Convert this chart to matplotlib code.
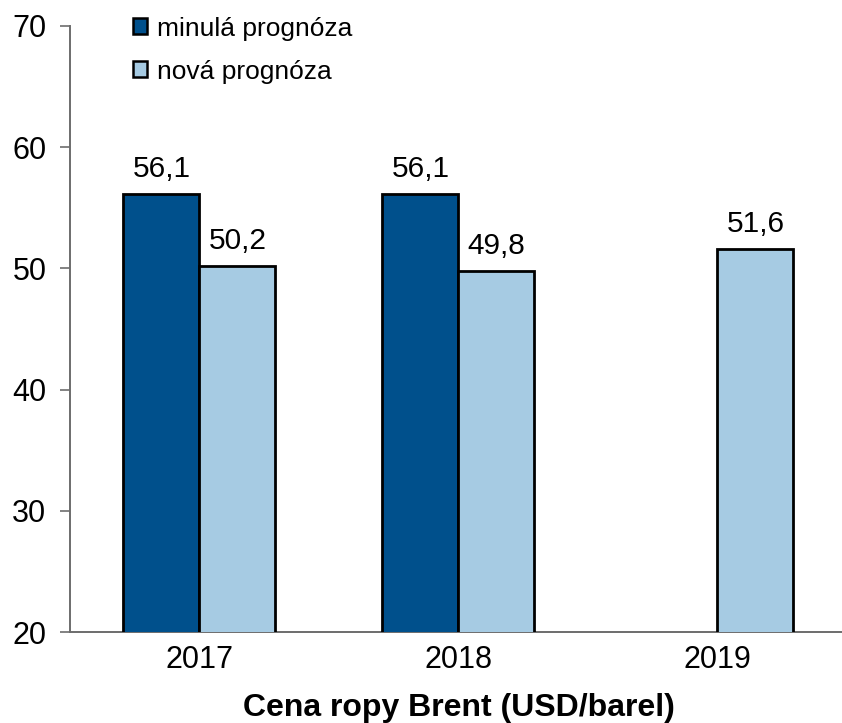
import matplotlib
matplotlib.use("Agg")
import matplotlib.pyplot as plt
import numpy as np
from matplotlib.patches import Patch

plt.rcParams['font.family'] = ['Liberation Sans', 'DejaVu Sans']

categories = ["2017", "2018", "2019"]
series_names = ["minulá prognóza", "nová prognóza"]
old_forecast = [56.1, 56.1, np.nan]
new_forecast = [50.2, 49.8, 51.6]
y_ticks = [20, 30, 40, 50, 60, 70]
xlabel = "Cena ropy Brent (USD/barel)"

dark = "#00508C"
light = "#A6CBE3"

W, H = 842, 723
fig = plt.figure(figsize=(W / 100, H / 100), dpi=100)
left_px, right_px, top_px, bottom_px = 70, 847, 26, 632
ax = fig.add_axes([left_px / W, 1 - bottom_px / H, (right_px - left_px) / W, (bottom_px - top_px) / H])

x = np.arange(len(categories))
bw = 76 / 259

def fmt(v):
    return f"{v:.1f}".replace(".", ",")

ax.bar(x - bw / 2, old_forecast, bw, color=dark, edgecolor="black", linewidth=2.0, zorder=3)
ax.bar(x + bw / 2, new_forecast, bw, color=light, edgecolor="black", linewidth=2.0, zorder=3)

for xs, vals in ((x - bw / 2, old_forecast), (x + bw / 2, new_forecast)):
    for xi, v in zip(xs, vals):
        if not np.isnan(v):
            ax.annotate(fmt(v), (xi, v), xytext=(0, 8), textcoords="offset points",
                        ha="center", va="bottom", fontsize=21.5)

ax.set_xlim(-0.5, len(categories) - 0.5)
ax.set_ylim(20, 70)
ax.set_yticks(y_ticks)
ax.set_yticklabels([str(t) for t in y_ticks], fontsize=22)
ax.set_xticks(x)
ax.set_xticklabels(categories, fontsize=22)
ax.tick_params(axis="x", length=0, pad=9)
ax.tick_params(axis="y", length=7, width=1.2, color="#6d6d6d", pad=10, direction="out")

for s in ("top", "right"):
    ax.spines[s].set_visible(False)
for s in ("left", "bottom"):
    ax.spines[s].set_color("#6d6d6d")
    ax.spines[s].set_linewidth(1.4)

ax.set_xlabel(xlabel, fontsize=23, fontweight="bold", labelpad=13)

handles = [Patch(facecolor=dark, edgecolor="black", linewidth=1.8),
           Patch(facecolor=light, edgecolor="black", linewidth=1.8)]
ax.legend(handles, series_names, loc="upper left", bbox_to_anchor=(0.068, 1.033),
          frameon=False, fontsize=19, handlelength=0.53, handleheight=0.53,
          handletextpad=0.35, labelspacing=0.72, borderaxespad=0)

fig.savefig("out.png", dpi=100)
